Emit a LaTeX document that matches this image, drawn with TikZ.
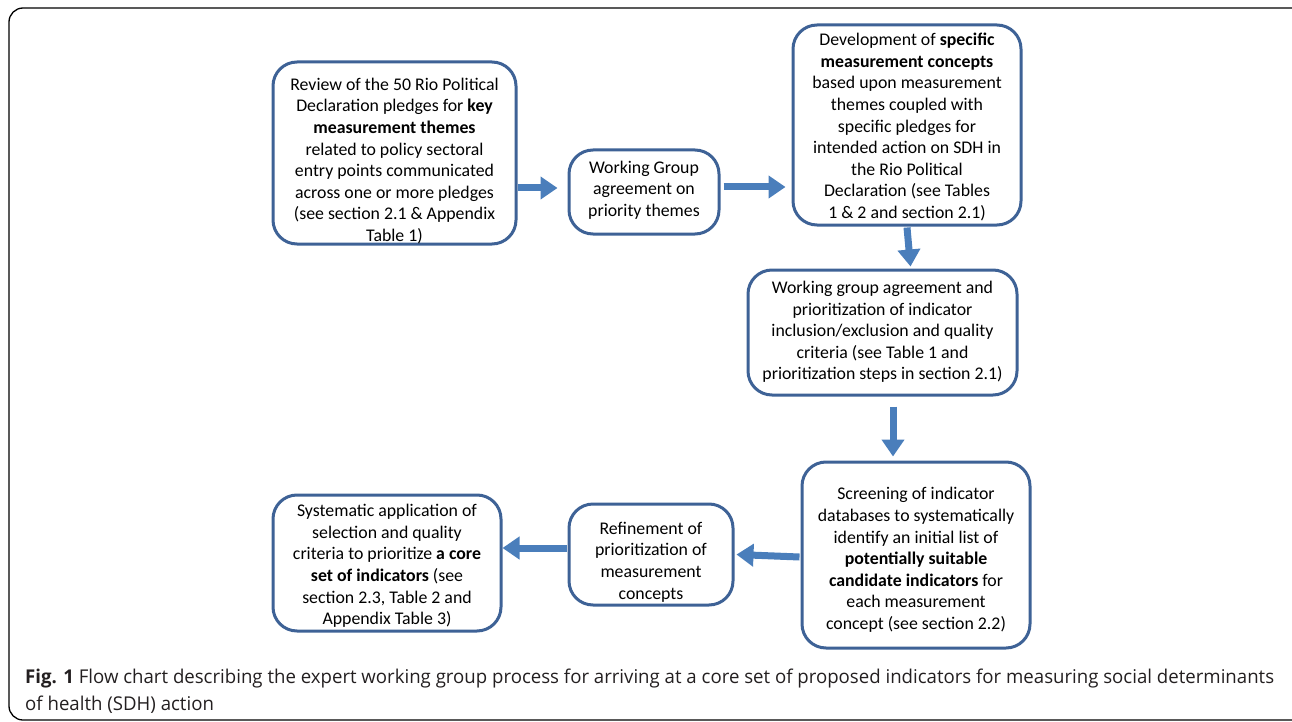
\documentclass[tikz,border=0pt]{standalone}
\usepackage{fontspec}
\setmainfont{Carlito}
\newfontfamily\capfont[FakeStretch=0.98]{Open Sans}
\usetikzlibrary{arrows.meta}
\definecolor{boxline}{HTML}{3E6296}
\definecolor{arrowblue}{HTML}{4A7EBB}
\definecolor{captext}{HTML}{231F20}
\tikzset{
  box/.style={draw=boxline, line width=3pt, rounded corners=24pt, fill=white, inner sep=0pt},
  txt/.style={align=center, inner sep=0pt, font=\fontsize{17.8}{21.6}\selectfont, text=black},
  flow/.style={draw=arrowblue, line width=7pt, -{Triangle[length=17pt,width=22pt]}},
  captionline/.style={anchor=base west, inner sep=0pt, font=\capfont\fontsize{19}{27}\selectfont, text=captext}
}
\begin{document}
\begin{tikzpicture}[x=1pt,y=-1pt]
\useasboundingbox (0,0) rectangle (1292,722);
\draw[line width=1.3pt, rounded corners=14pt] (9,8) rectangle (1310,720);
% boxes
\node[box, minimum width=243pt, minimum height=182pt] (a) at (394.5,153) {};
\node[box, minimum width=150pt, minimum height=84pt] (b) at (644,192) {};
\node[box, minimum width=228pt, minimum height=200pt] (c) at (907,125) {};
\node[box, minimum width=269pt, minimum height=125pt] (d) at (882.5,332.5) {};
\node[box, minimum width=228pt, minimum height=186pt] (e) at (916,555) {};
\node[box, minimum width=164pt, minimum height=101pt] (f) at (651,554.5) {};
\node[box, minimum width=228pt, minimum height=136pt] (g) at (387,563) {};
% texts
\node[txt] (ta) at (394.5,161) {Review of the 50 Rio Political\\Declaration pledges for \textbf{key}\\\textbf{measurement themes}\\related to policy sectoral\\entry points communicated\\across one or more pledges\\(see section 2.1 \& Appendix\\Table 1)};
\node[txt] (tb) at (644,190) {Working Group\\agreement on\\priority themes};
\node[txt] (tc) at (907,127) {Development of \textbf{specific}\\\textbf{measurement concepts}\\based upon measurement\\themes coupled with\\specific pledges for\\intended action on SDH in\\the Rio Political\\Declaration (see Tables\\1 \& 2 and section 2.1)};
\node[txt] (td) at (882.5,332) {Working group agreement and\\prioritization of indicator\\inclusion/exclusion and quality\\criteria (see Table 1 and\\prioritization steps in section 2.1)};
\node[txt] (te) at (916,560) {Screening of indicator\\databases to systematically\\identify an initial list of\\\textbf{potentially suitable}\\\textbf{candidate indicators} for\\each measurement\\concept (see section 2.2)};
\node[txt] (tf) at (651,562) {Refinement of\\prioritization of\\measurement\\concepts};
\node[txt] (tg) at (387,566) {Systematic application of\\selection and quality\\criteria to prioritize \textbf{a core}\\\textbf{set of indicators} (see\\section 2.3, Table 2 and\\Appendix Table 3)};
% arrows
\draw[flow] ([yshift=4pt]b.west -| a.east) -- ([yshift=4pt,xshift=-10pt]b.west);
\draw[flow] ([yshift=5pt,xshift=3pt]b.east) -- ([yshift=5pt,xshift=-6pt]b.east -| c.west);
\draw[flow] ([xshift=0pt,yshift=-1pt]c.south) -- ([xshift=28pt,yshift=2pt]d.north);
\draw[flow] ([xshift=10.5pt,yshift=-10pt]d.south) -- ([xshift=-23pt,yshift=4pt]e.north);
\draw[flow] ([yshift=-2pt,xshift=-1pt]e.west) -- ([xshift=2pt]f.east);
\draw[flow] ([yshift=6.5pt,xshift=-1pt]f.west) -- ([yshift=6.5pt,xshift=0pt]f.west -| g.east);
% caption
\node[captionline] (cap1) at (25,683) {\textbf{Fig. 1} Flow chart describing the expert working group process for arriving at a core set of proposed indicators for measuring social determinants};
\node[captionline] (cap2) at (25,710) {of health (SDH) action};
\end{tikzpicture}
\end{document}
